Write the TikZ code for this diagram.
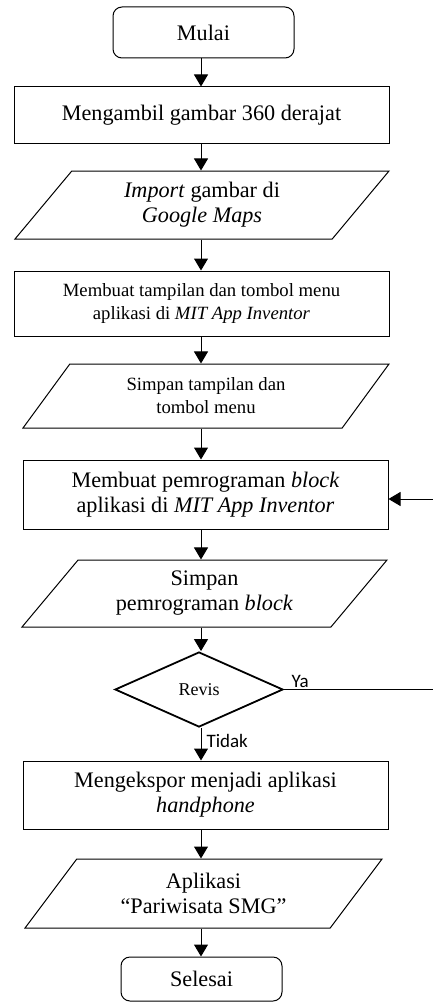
\documentclass[tikz,border=0pt]{standalone}
\usepackage{fontspec}
\setmainfont{Liberation Serif}
\newfontfamily\labelfont{Carlito}
\usetikzlibrary{arrows.meta,shapes.geometric}
\newcommand{\besar}{\fontsize{22.2}{25}\selectfont}
\newcommand{\kecil}{\fontsize{18.7}{23}\selectfont}

\begin{document}
\begin{tikzpicture}[
  x=1pt, y=-1pt,
  >={Triangle[length=12pt, width=14pt]},
  box/.style={draw, line width=1pt, minimum width=365pt, minimum height=68pt,
              inner sep=3pt, font=\besar, align=center},
  term/.style={box, rounded corners=9pt, minimum width=181pt, minimum height=51pt},
  io/.style={box, trapezium, trapezium left angle=42, trapezium right angle=138,
             trapezium stretches body},
  cond/.style={draw, diamond, line width=1.8pt, minimum width=168pt, minimum height=75pt,
               inner sep=0pt, font=\fontsize{18}{20}\selectfont},
  arr/.style={->, line width=1pt},
  lbl/.style={font=\labelfont\fontsize{19}{21}\selectfont, inner sep=1pt},
]
\useasboundingbox (0,0) rectangle (433,1006);

% vertical spine of the flow
\coordinate (spine) at (201,0);

%% steps
\node[term] (mulai) at (203.5, 32.5) {Mulai};
\node[box, minimum width=375pt, minimum height=56pt] (ambil) at (201.5, 115)
    {Mengambil gambar 360 derajat};
\node[io, minimum width=374pt, minimum height=68pt] (impor) at (202, 205)
    {\textit{Import} gambar di\\\textit{Google Maps}};
\node[box, minimum width=375pt, minimum height=65pt, font=\kecil] (tampil) at (201.5, 303.5)
    {Membuat tampilan dan tombol menu\\aplikasi di \textit{MIT App Inventor}};
\node[io, minimum width=366pt, minimum height=64pt, font=\kecil] (simpan1) at (206, 396)
    {Simpan tampilan dan\\tombol menu};
\node[box, minimum height=69pt] (blok) at (205.5, 494.5)
    {Membuat pemrograman \textit{block}\\aplikasi di \textit{MIT App Inventor}};
\node[io, minimum width=365pt, minimum height=67pt] (simpan2) at (204.5, 593.5)
    {Simpan\\pemrograman \textit{block}};
\node[cond] (revisi) at (199, 689.5) {\raisebox{-4pt}{Revis}};
\node[box, minimum height=68pt] (ekspor) at (205.5, 795)
    {Mengekspor menjadi aplikasi\\\textit{handphone}};
\node[io, minimum width=357pt, minimum height=69pt] (aplikasi) at (203.5, 893.5)
    {Aplikasi\\``Pariwisata SMG''};
\node[term, minimum width=161pt, minimum height=44pt] (selesai) at (201.5, 979) {Selesai};

% loop back point, just past the right edge
\coordinate (balik) at (440, 689.5);

%% arrows
\foreach \a/\b in {mulai/ambil, ambil/impor, impor/tampil, tampil/simpan1,
                   simpan1/blok, blok/simpan2, simpan2/revisi, ekspor/aplikasi,
                   aplikasi/selesai}
  \draw[arr] (\a.south -| spine) -- (\b.north -| spine);

\draw[arr] (revisi.south -| spine) -- node[lbl, right, pos=0.4, xshift=4pt] {Tidak} (ekspor.north -| spine);
\draw[line width=1pt] (revisi.east) -- node[lbl, above right, pos=0.04] {Ya} (balik);
\draw[arr] (balik) |- ([yshift=-4.5pt]blok.east);

\end{tikzpicture}
\end{document}
